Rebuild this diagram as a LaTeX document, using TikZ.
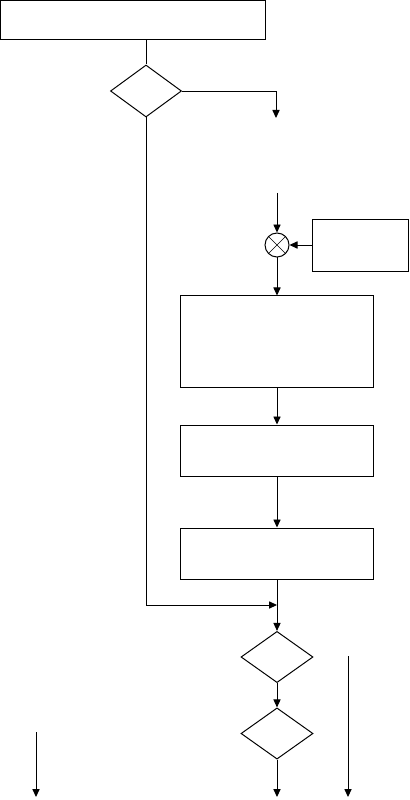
\documentclass[tikz,border=0pt]{standalone}
\usepackage{tikz}
\usetikzlibrary{positioning,arrows.meta,shapes.geometric}
\tikzset{
  flow/.style={rectangle,draw=black,line width=0.7pt,inner sep=0pt},
  decision/.style={diamond,draw=black,line width=0.7pt,inner sep=0pt,minimum width=1.8cm,minimum height=1.28cm},
  mixer/.style={circle,draw=black,line width=0.7pt,inner sep=0pt,minimum size=0.6cm},
  edge/.style={-{Triangle[length=2mm,width=1.8mm]},line width=0.7pt},
  plain/.style={line width=0.7pt}
}
\begin{document}
\begin{tikzpicture}[x=0.025cm,y=-0.025cm]
  \useasboundingbox (0,0) rectangle (409,800);
  % upper part
  \node[flow,minimum width=6.6cm,minimum height=0.95cm] (top) at (133,20) {};
  \node[decision,minimum width=1.775cm,minimum height=1.3cm] (d1) at (146,91) {};
  \coordinate (yesend) at (276,118);
  \coordinate (feed) at (277,193);
  \node[mixer] (mix) at (277,245) {};
  \node[flow,minimum width=2.4cm,minimum height=1.3cm] (side) at (360,245) {};
  % chain of blocks
  \node[flow,minimum width=4.8cm,minimum height=2.275cm] (b1) at (277,341.5) {};
  \node[flow,minimum width=4.8cm,minimum height=1.275cm] (b2) at (277,450.5) {};
  \node[flow,minimum width=4.8cm,minimum height=1.275cm] (b3) at (277,553.5) {};
  \coordinate (merge) at (277,605);
  \node[decision] (d2) at (277,657) {};
  \node[decision] (d3) at (277,733.5) {};
  % free ends
  \coordinate (out) at (277,797);
  \coordinate (rtop) at (348,656);
  \coordinate (rend) at (348,797);
  \coordinate (ltop) at (36,732);
  \coordinate (lend) at (36,797);
  % connectors
  \draw[plain] (top.south -| d1.north) -- (d1.north);
  \draw[edge] (d1.east) -| (yesend);
  \draw[edge] (feed) -- (mix);
  \draw (mix.45) -- (mix.225) (mix.135) -- (mix.315);
  \draw[edge] (side) -- (mix);
  \draw[edge] (mix) -- (b1);
  \draw[edge] (b1) -- (b2);
  \draw[edge] (b2) -- (b3);
  \draw[edge] (d1.south) |- (merge);
  \draw[edge] (b3) -- (d2);
  \draw[edge] (d2) -- (d3);
  \draw[edge] (d3) -- (out);
  \draw[edge] (rtop) -- (rend);
  \draw[edge] (ltop) -- (lend);
\end{tikzpicture}
\end{document}
